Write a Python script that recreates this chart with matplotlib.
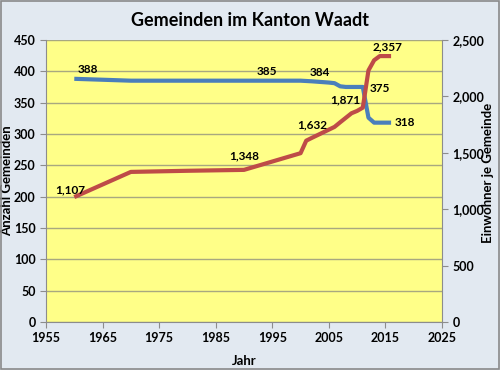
import matplotlib
matplotlib.use("Agg")
import matplotlib.pyplot as plt
from matplotlib.patches import Rectangle

plt.rcParams['font.family'] = ['Lato', 'DejaVu Sans']
plt.rcParams['font.weight'] = 'bold'

# Anzahl Gemeinden (linke Achse)
years_gem = [1960, 1970, 1980, 1990, 2000, 2002, 2005, 2006, 2007, 2008,
             2009, 2010, 2011, 2012, 2013, 2014, 2015, 2016]
gemeinden = [388, 385, 385, 385, 385, 384, 382, 381, 376, 375,
             375, 375, 375, 326, 318, 318, 318, 318]

# Einwohner je Gemeinde (rechte Achse)
years_ew = [1960, 1970, 1980, 1990, 2000, 2001, 2002, 2006, 2007, 2008,
            2009, 2010, 2011, 2012, 2013, 2014, 2015, 2016]
einwohner = [1107, 1330, 1340, 1348, 1496, 1607, 1632, 1729, 1770, 1810,
             1850, 1871, 1900, 2230, 2320, 2357, 2357, 2357]

# labels: (year, value, dx, dy) in pixels
gem_labels = [(1960, 388, 14, 9), (1994, 385, 0, 9), (2002, 384, 8, 9),
              (2011, 375, 17, -2), (2016, 318, 4, 0)]
ew_labels = [(1960, 1107, -4, 7), (1990, 1348, 0, 14), (2002, 1632, 0, 13),
             (2010, 1871, -12, 11), (2014, 2357, 8, 9)]

blue = '#4a7ebb'
red = '#be4b48'

fig = plt.figure(figsize=(5.0, 3.7), dpi=100)
fig.patch.set_facecolor('#e2e9f1')
fig.patches.append(Rectangle((0.002, 0.003), 0.995, 0.993, transform=fig.transFigure,
                             fill=False, edgecolor='#8a8a8a', linewidth=1.2))

ax = fig.add_axes([0.092, 0.13, 0.792, 0.762])
ax.set_facecolor('#ffff88')
ax.plot(years_gem, gemeinden, color=blue, linewidth=3, solid_capstyle='butt', zorder=3)
ax.set_xlim(1955, 2025)
ax.set_ylim(0, 450)
ax.set_xticks(range(1955, 2026, 10))
ax.set_yticks(range(0, 451, 50))
ax.grid(axis='y', color='#a8a880', linewidth=1)
ax.set_axisbelow(True)
for s in ['top', 'right']:
    ax.spines[s].set_visible(False)
for s in ['left', 'bottom']:
    ax.spines[s].set_color('#8c8c8c')
ax.tick_params(colors='#8c8c8c', labelcolor='black', labelsize=9, length=4)
ax.set_xlabel('Jahr', fontsize=9.5, fontweight='bold', labelpad=8)
ax.set_ylabel('Anzahl Gemeinden', fontsize=9.5, fontweight='bold')
ax.yaxis.set_label_coords(-0.082, 0.5)

ax2 = ax.twinx()
ax2.plot(years_ew, einwohner, color=red, linewidth=3, solid_capstyle='butt', zorder=3)
ax2.set_ylim(0, 2500)
ax2.set_yticks(range(0, 2501, 500))
ax2.set_yticklabels([f'{v:,}' for v in range(0, 2501, 500)])
for s in ['top', 'left', 'bottom']:
    ax2.spines[s].set_visible(False)
ax2.spines['right'].set_color('#8c8c8c')
ax2.tick_params(colors='#8c8c8c', labelcolor='black', labelsize=9, length=4)
ax2.set_ylabel('Einwohner je Gemeinde', fontsize=9.5, fontweight='bold')
ax2.yaxis.set_label_coords(1.1, 0.53)

for x, y, dx, dy in gem_labels:
    ha = 'left' if x == 2016 else 'center'
    ax2.annotate(str(y), xy=(x, y * 2500 / 450), xytext=(dx, dy), textcoords='offset pixels',
                 ha=ha, va='center', fontsize=8.5, fontweight='bold', zorder=5)
for x, y, dx, dy in ew_labels:
    ax2.annotate(f'{y:,}', xy=(x, y), xytext=(dx, dy), textcoords='offset pixels',
                 ha='center', va='center', fontsize=8.5, fontweight='bold', zorder=5)

fig.text(0.5, 0.945, 'Gemeinden im Kanton Waadt', ha='center', va='center',
         fontsize=13, fontweight='bold')

fig.savefig('out.png', dpi=100, facecolor=fig.get_facecolor())
